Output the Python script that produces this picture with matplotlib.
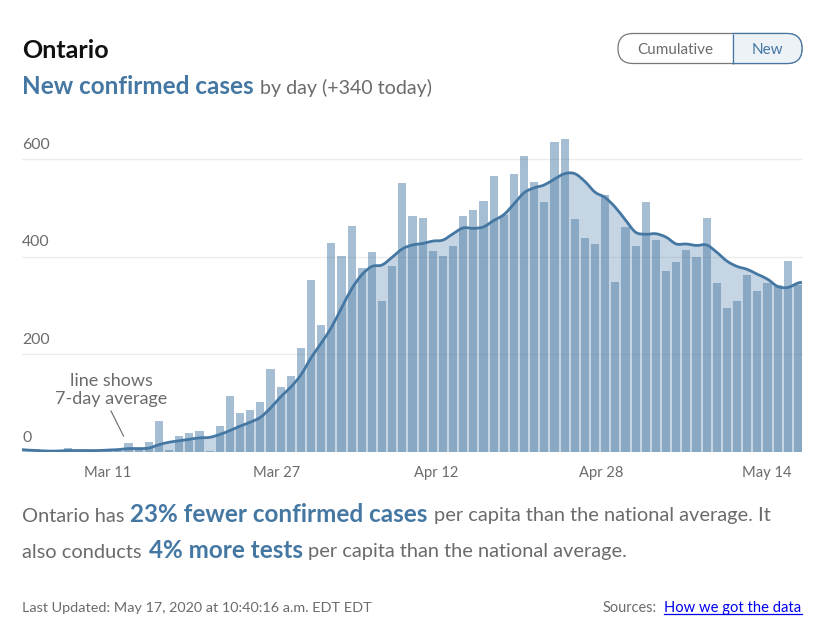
# Ontario new confirmed cases by day
import matplotlib
matplotlib.use("Agg")
import matplotlib.pyplot as plt
from matplotlib.patches import FancyBboxPatch, PathPatch, Rectangle
from matplotlib.path import Path
from matplotlib.transforms import ScaledTranslation

plt.rcParams['font.family'] = ['Lato', 'DejaVu Sans']

new_cases = [
    1, 1, 0, 1, 8, 1, 0, 1, 2, 3, 18, 4, 20, 64, 4, 33, 38, 44, 2, 54,
    115, 79, 86, 102, 171, 133, 155, 213, 352, 261, 427, 402, 463, 376, 409, 310, 381, 551, 484, 479,
    412, 402, 422, 484, 495, 515, 565, 486, 569, 607, 552, 512, 635, 641, 477, 438, 425, 526, 348, 460,
    422, 512, 435, 371, 389, 414, 400, 479, 347, 295, 309, 363, 330, 346, 341, 392, 342,
]
avg_7day = [
    4, 3, 2, 2, 3, 3, 3, 3, 4, 5, 7, 7, 8, 15, 20, 23, 26, 29, 30, 36,
    44, 53, 61, 71, 90, 113, 133, 158, 193, 223, 255, 295, 334, 363, 380, 383, 399, 416, 424, 427,
    432, 434, 447, 459, 458, 461, 474, 486, 508, 531, 541, 547, 559, 570, 570, 554, 532, 521, 501, 475,
    450, 446, 447, 440, 426, 426, 423, 424, 409, 391, 380, 374, 364, 354, 339, 337, 346,
]
days = list(range(len(new_cases)))

# the average line runs on to both edges of the chart
avg_edge_days = [-0.5, 76.4]
avg_edge_vals = [5, 347]

y_ticks = [0, 200, 400, 600]
x_tick_pos = [7.9, 24.6, 40.3, 56.6, 72.9]
x_tick_labels = ["Mar 11", "Mar 27", "Apr 12", "Apr 28", "May 14"]

BLUE = "#4577a3"
GREY = "#6b6b6b"
W, H = 830, 627


def smooth_path(xs, ys):
    # catmull-rom through the points, as bezier segments
    verts = [(xs[0], ys[0])]
    codes = [Path.MOVETO]
    n = len(xs)
    for i in range(n - 1):
        a, b = max(i - 1, 0), min(i + 2, n - 1)
        c1 = (xs[i] + (xs[i + 1] - xs[a]) / 6, ys[i] + (ys[i + 1] - ys[a]) / 6)
        c2 = (xs[i + 1] - (xs[b] - xs[i]) / 6, ys[i + 1] - (ys[b] - ys[i]) / 6)
        verts += [c1, c2, (xs[i + 1], ys[i + 1])]
        codes += [Path.CURVE4] * 3
    return verts, codes


fig = plt.figure(figsize=(W / 100, H / 100), dpi=100)

# chart area runs x 22-803, y 130-452 in pixels
ax = fig.add_axes([22 / W, 1 - 452 / H, 781 / W, 322 / H])
ax.set_xlim(-0.5, 76.5)
ax.set_ylim(0, 322 / 0.4883)
ax.set_facecolor("none")
for s in ax.spines.values():
    s.set_visible(False)

line_x = [avg_edge_days[0]] + days + [avg_edge_days[1]]
line_y = [avg_edge_vals[0]] + avg_7day + [avg_edge_vals[1]]
verts, codes = smooth_path(line_x, line_y)

ax.bar(days, new_cases, width=0.8, color=BLUE, alpha=0.48, linewidth=0, zorder=2)
area = Path(verts + [(line_x[-1], 0), (line_x[0], 0), (line_x[0], line_y[0])],
            codes + [Path.LINETO, Path.LINETO, Path.CLOSEPOLY])
ax.add_patch(PathPatch(area, fc=BLUE, alpha=0.3, lw=0, zorder=1))
ax.add_patch(PathPatch(Path(verts, codes), fc="none", ec=BLUE, lw=2.0, zorder=3, capstyle="butt"))

ax.set_yticks(y_ticks)
ax.set_yticklabels([str(v) for v in y_ticks])
ax.set_xticks(x_tick_pos)
ax.set_xticklabels(x_tick_labels)
ax.yaxis.grid(True, color="#ececec", lw=1, zorder=0)
ax.set_axisbelow(True)
ax.tick_params(axis="both", length=0, labelcolor=GREY)
ax.tick_params(axis="x", pad=10, labelsize=10.6)
ax.tick_params(axis="y", pad=0, labelsize=11.4)
up = ScaledTranslation(0, 7.5 / 100, fig.dpi_scale_trans)
for lbl in ax.get_yticklabels():
    lbl.set_ha("left")
    lbl.set_va("bottom")
    lbl.set_transform(lbl.get_transform() + up)

# overlay in pixel coordinates for the page text and the buttons
pg = fig.add_axes([0, 0, 1, 1], zorder=5)
pg.set_xlim(0, W)
pg.set_ylim(H, 0)
pg.axis("off")


def txt(x, y, s, size, color=GREY, weight="normal", ha="left"):
    # size given in pixels, y is the visual middle of the line
    return pg.text(x, y + 1, s, fontsize=size * 0.72, color=color, fontweight=weight, ha=ha, va="center")


txt(22, 49, "Ontario", 25, color="#111111", weight="bold")
txt(22, 86, "New confirmed cases", 24.3, color=BLUE, weight="bold")
txt(260, 87, "by day (+340 today)", 19.7)

txt(111, 380, "line shows", 18, ha="center")
txt(111, 398, "7-day average", 18, ha="center")
pg.plot([111, 123.5], [411, 436], color="#777777", lw=0.9)

txt(22, 515, "Ontario has", 20)
txt(130, 514, "23% fewer confirmed cases", 24.2, color=BLUE, weight="bold")
txt(434, 515, "per capita than the national average. It", 20)
txt(22, 551, "also conducts", 20)
txt(149, 550, "4% more tests", 24.2, color=BLUE, weight="bold")
txt(308, 551, "per capita than the national average.", 20)

txt(22, 607, "Last Updated: May 17, 2020 at 10:40:16 a.m. EDT EDT", 14.4)
txt(603, 607, "Sources:", 14.5)
txt(664, 607, "How we got the data", 14.8, color="#0000ee")
pg.plot([664, 802], [614, 614], color="#0000ee", lw=0.9)

# toggle buttons
box = dict(boxstyle="round,pad=0,rounding_size=15", mutation_aspect=1)
pg.add_patch(FancyBboxPatch((618, 33.5), 184, 30, fc="white", ec="#777777", lw=0.9, **box))
right = FancyBboxPatch((618, 33.5), 184, 30, fc="#edf2f7", ec=BLUE, lw=0.9, **box)
pg.add_patch(right)
right.set_clip_path(Rectangle((732, 30), 75, 36, transform=pg.transData))
pg.plot([732.5, 732.5], [33.5, 63.5], color=BLUE, lw=0.9, solid_capstyle="butt")
txt(675, 49, "Cumulative", 15.2, ha="center")
txt(767, 49, "New", 15.2, color=BLUE, ha="center")

fig.savefig("out.png", dpi=100)
